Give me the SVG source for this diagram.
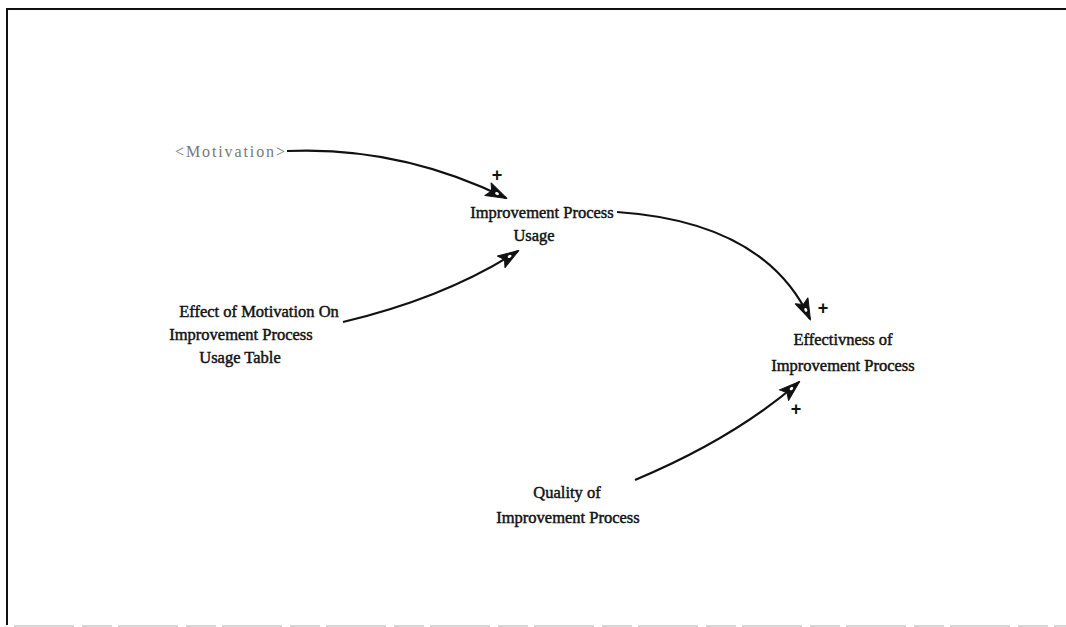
<svg xmlns="http://www.w3.org/2000/svg" width="1066" height="627" viewBox="0 0 1066 627">
  <style>
    .lbl { font-family: "Liberation Serif", "Times New Roman", serif; font-size: 16.5px; fill: #111; stroke: #111; stroke-width: 0.45; text-anchor: middle; }
    .ghost { font-family: "Liberation Serif", "Times New Roman", serif; font-size: 16px; fill: #777; }
    .pol { font-family: "Liberation Sans", Arial, sans-serif; font-size: 18px; font-weight: bold; fill: #111; text-anchor: middle; }
    .link { fill: none; stroke: #111; stroke-width: 2.2; marker-end: url(#head); }
    .frame { fill: none; stroke: #111; stroke-width: 2; }
  </style>
  <defs>
    <!-- dart-shaped causal arrowhead with a small light core -->
    <marker id="head" viewBox="-22 -8 24 16" refX="0" refY="0" markerWidth="24" markerHeight="16" markerUnits="userSpaceOnUse" orient="auto">
      <path d="M1,0 L-20,-7 L-16,0 L-20,7 Z" fill="#111" stroke="#111" stroke-width="1" stroke-linejoin="round"/>
      <ellipse cx="-10" cy="0" rx="2" ry="1.4" fill="#fff"/>
    </marker>
  </defs>

  <!-- page frame -->
  <g id="frame">
    <path class="frame" d="M7,625 L7,9 L1066,9"/>
    <path d="M14,626 L1066,626" stroke="#c8c8c8" stroke-width="1.5" stroke-dasharray="60 8 30 6" fill="none"/>
  </g>

  <!-- causal links -->
  <g id="links">
    <path class="link" d="M287,151 Q400,146 506,198"/>
    <path class="link" d="M343,322 Q445,298 518,251"/>
    <path class="link" d="M617,212 Q765,222 810,319"/>
    <path class="link" d="M635,480 Q735,438 799,382"/>
  </g>

  <!-- link polarity marks -->
  <g id="polarities">
    <text class="pol" x="497" y="181">+</text>
    <text class="pol" x="823" y="314">+</text>
    <text class="pol" x="796" y="415">+</text>
  </g>

  <g id="motivation">
    <text class="ghost" x="175" y="157" textLength="110" lengthAdjust="spacing">&lt;Motivation&gt;</text>
  </g>

  <g id="usage">
    <text class="lbl" x="542" y="218">Improvement Process</text>
    <text class="lbl" x="534" y="241">Usage</text>
  </g>

  <g id="effect-table">
    <text class="lbl" x="259" y="317">Effect of Motivation On</text>
    <text class="lbl" x="241" y="340">Improvement Process</text>
    <text class="lbl" x="240" y="363">Usage Table</text>
  </g>

  <g id="effectiveness">
    <text class="lbl" x="843" y="345">Effectivness of</text>
    <text class="lbl" x="843" y="371">Improvement Process</text>
  </g>

  <g id="quality">
    <text class="lbl" x="567" y="498">Quality of</text>
    <text class="lbl" x="568" y="523">Improvement Process</text>
  </g>
</svg>
